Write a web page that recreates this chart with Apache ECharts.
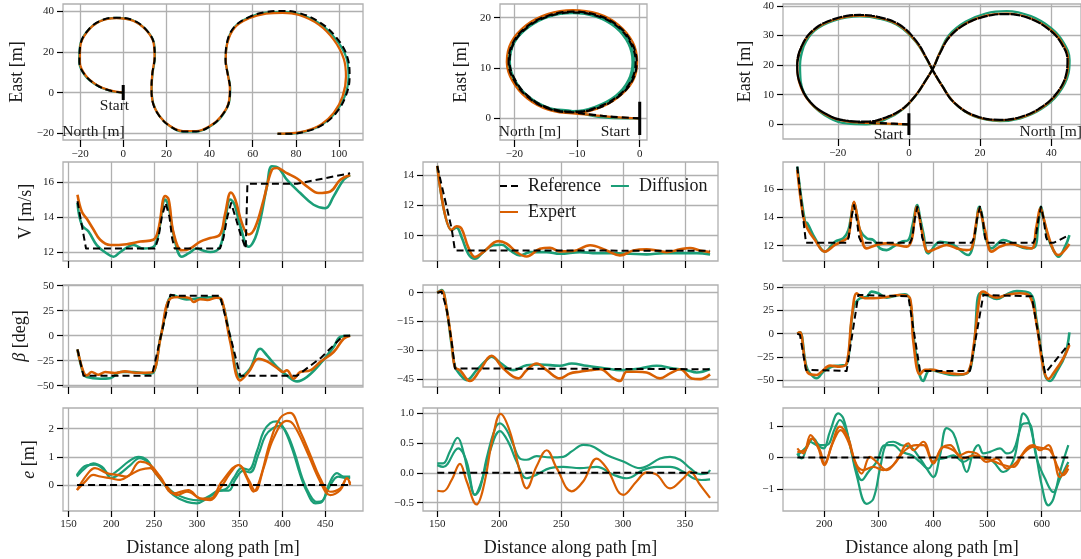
<!DOCTYPE html>
<html><head><meta charset="utf-8">
<script src="https://cdn.jsdelivr.net/npm/echarts@6/dist/echarts.min.js"></script>
<style>html,body{margin:0;padding:0;background:#fff}#c{width:1081px;height:559px}</style>
</head><body><div id="c"></div>
<script>
// ---------------- DATA ----------------
// Tick values
const t1x=[-20,0,20,40,60,80,100], t1y=[-20,0,20,40];
const t2x=[-20,-10,0], t2y=[0,10,20];
const t3x=[-20,0,20,40], t3y=[0,10,20,30,40];
const dist1=[150,200,250,300,350,400,450], dist2=[150,200,250,300,350], dist3=[200,300,400,500,600];
const vT1=[12,14,16], vT2=[10,12,14], vT3=[12,14,16];
const bT1=[-50,-25,0,25,50], bT2=[-45,-30,-15,0], bT3=[-50,-25,0,25,50];
const eT1=[0,1,2], eT2=[-0.5,0,0.5,1], eT3=[-1,0,1];

// Trajectory 1 [north, east]
const traj1Ref=[[0,0],[-6.2,1],[-12.3,3.7],[-17.7,8.6],[-20.3,15.1],[-20,22.4],[-16.9,29.8],[-10.8,35.1],[-3.1,36.7],[4.6,35.4],[10.8,30.6],[14.2,24.1],[14.6,17.6],[13.5,9.4],[13.1,2.1],[13.8,-5.2],[16.9,-11.7],[21.5,-16.3],[27.7,-19],[33.8,-19],[40,-16.6],[45.4,-11.7],[49.2,-3.6],[49.5,2.1],[48.5,8.6],[47.4,15.9],[48,24.1],[51.5,32.2],[58.5,37.1],[66.2,39.5],[73.8,40],[81.5,39],[90.8,34.6],[98.5,27.3],[103.8,17.6],[104.9,7.8],[103,-2],[98.5,-10.1],[92.3,-15.8],[84.6,-19],[76.9,-20.2],[71.5,-20.2]];
const traj1Exp=[[0,0],[-6.2,1.1],[-12.3,3.8],[-17.6,8.7],[-20.1,15.1],[-19.9,22.4],[-16.8,29.6],[-10.8,34.9],[-3.1,36.5],[4.6,35.2],[10.7,30.5],[14.1,24.1],[14.5,17.6],[13.5,9.4],[13.1,2.1],[13.8,-5.2],[16.9,-11.6],[21.5,-16.2],[27.7,-18.8],[33.8,-18.8],[40,-16.4],[45.3,-11.6],[49.1,-3.6],[49.4,2.1],[48.5,8.6],[47.5,15.9],[48.2,24],[51.7,31.9],[58.6,36.5],[66.2,38.7],[73.8,39.1],[81.5,38],[90.6,33.3],[97.6,25.8],[102.2,16.5],[103.2,7.8],[101.6,-2],[97.6,-9.8],[91.9,-15.4],[84.4,-18.8],[76.9,-20],[71.5,-20.1]];
const traj1Dif=[[0,0],[-6.2,0.9],[-12.3,3.6],[-17.8,8.5],[-20.4,15.1],[-20.1,22.4],[-17,29.7],[-10.8,35],[-3.1,36.6],[4.6,35.3],[10.8,30.5],[14.3,24.1],[14.7,17.6],[13.6,9.4],[13.2,2.1],[13.9,-5.2],[17,-11.8],[21.6,-16.4],[27.7,-19.1],[33.8,-19.1],[40,-16.7],[45.5,-11.8],[49.3,-3.6],[49.6,2.1],[48.6,8.6],[47.5,15.9],[48.1,24],[51.5,32],[58.4,36.9],[66.2,39.2],[73.8,39.5],[81.5,38.5],[90.8,34],[98.2,26.6],[103.4,17.1],[104.4,7.8],[102.6,-2],[98.2,-10],[92.2,-15.7],[84.6,-19],[76.9,-20.2],[71.5,-20.2]];
const start1=[[0,-3.6],[0,3.7]];

// Trajectory 2 (loop driven several laps)
const traj2RefEntry=[[0,0],[-4.2,0.3],[-7.4,0.7]];
const traj2RefLap=[[-10.7,1.2],[-14.5,1.9],[-17.8,4.2],[-20,7.5],[-20.9,11.2],[-20.2,15],[-17.9,18.3],[-14.6,20.4],[-10.7,21.2],[-6.8,20.5],[-3.5,18.4],[-1.3,15],[-0.5,11.2],[-1.2,7.5],[-3.4,4.3],[-6.8,2]];
const traj2RefLapB=[[-10.7,1.35],[-14.5,2.05],[-17.7,4.3],[-19.85,7.6],[-20.75,11.2],[-20.05,15],[-17.8,18.2],[-14.6,20.25],[-10.7,21.05],[-6.85,20.35],[-3.6,18.3],[-1.45,14.95],[-0.65,11.2],[-1.35,7.5],[-3.5,4.4],[-6.85,2.15]];
const traj2RefEnd=[[-10.7,1.2],[-14.5,1.9],[-17.8,4.2]];
const traj2ExpEntry=[[0,0],[-4.2,0.25],[-7.4,0.65]];
const traj2ExpLap=[[-10.7,1.0],[-14.6,1.7],[-18,4],[-20.3,7.4],[-21.2,11.2],[-20.5,15.1],[-18.1,18.5],[-14.7,20.7],[-10.7,21.5],[-6.7,20.8],[-3.4,18.6],[-1.1,15.1],[-0.4,11.2],[-1.1,7.4],[-3.4,4.2],[-6.8,1.9]];
const traj2DifEntry=[[0,0],[-4.2,0.05],[-7.5,0.5]];
const traj2DifLapA=[[-10.7,1.45],[-14.5,2.1],[-17.8,4.4],[-19.9,7.6],[-20.7,11.2],[-20,15],[-17.7,18.1],[-14.5,20.2],[-10.7,20.9],[-7,20.2],[-3.9,18.1],[-1.8,14.8],[-1.15,11.2],[-1.8,7.6],[-3.8,4.5],[-7.1,2.3]];
const traj2DifLapB=[[-10.7,1.35],[-14.5,2],[-17.9,4.3],[-20.1,7.5],[-20.9,11.2],[-20.2,15],[-17.8,18.2],[-14.5,20.3],[-10.7,21],[-6.9,20.3],[-3.7,18.2],[-1.6,14.9],[-0.9,11.2],[-1.5,7.5],[-3.6,4.4],[-7,2.2]];
const start2=[[0,-3.3],[0,3.3]];

// Trajectory 3 (figure eight)
const traj3RefEntry=[[0,0],[-6.3,0.3],[-12,0.6]];
const traj3RefLap=[[-17.5,1.2],[-22.2,2.8],[-27.8,7.6],[-30.8,14.4],[-31.4,20],[-30.2,26.2],[-26.9,31.8],[-21.3,35.4],[-13.8,36.9],[-8.2,36.1],[-2.5,33.5],[2.2,27.9],[5,22.2],[6.8,18.1],[9.2,13.3],[12.5,7.6],[18.1,3.1],[25.6,1.5],[31.2,2.4],[36.8,5.4],[41.5,10.4],[44.3,17.2],[44.6,21.7],[42.9,27.3],[39.6,31.8],[34,35.7],[27.5,37.2],[21.8,36.5],[16.2,34],[11.5,29.6],[8.7,23.9],[6.8,18.9],[4.5,14.4],[2.2,10.2],[-1.6,5.4],[-6.3,2.4],[-11.9,0.9]];
const traj3RefEnd=[[-17.5,1.2],[-22.2,2.8],[-27.8,7.6],[-30.8,14.4],[-31.4,20],[-30.2,26.2]];
const traj3ExpEntry=[[0,0],[-6.3,0.2],[-12,0.5]];
const traj3ExpLap=[[-17.5,1.0],[-22.3,2.6],[-27.9,7.5],[-30.9,14.4],[-31.4,20],[-30.2,26.1],[-26.9,31.6],[-21.3,35.2],[-13.8,36.7],[-8.2,35.9],[-2.6,33.3],[2.1,27.8],[5,22.1],[6.8,18],[9.2,13.2],[12.6,7.5],[18.2,2.9],[25.6,1.3],[31.3,2.2],[37,5.3],[41.7,10.4],[44.5,17.2],[44.8,21.7],[43.1,27.4],[39.7,32],[34,35.9],[27.5,37.4],[21.7,36.7],[16.1,34.1],[11.4,29.6],[8.6,23.9],[6.8,18.9],[4.5,14.3],[2.1,10.1],[-1.7,5.2],[-6.4,2.1],[-11.9,0.6]];
const traj3ExpEnd=[[-17.5,1.0],[-22.3,2.6],[-27.9,7.5],[-30.9,14.4],[-31.4,20],[-30.2,26.1]];
const traj3DifEntry=[[0,0],[-6.3,0.1],[-12,0.2]];
const traj3DifLap=[[-17.5,0.3],[-22.2,2.0],[-27.6,7.2],[-30.4,14.4],[-30.6,20],[-29.6,26.2],[-26.5,31.6],[-21.1,35],[-13.8,36.4],[-8.2,35.6],[-2.6,33],[2.1,27.6],[5,22],[6.8,17.9],[9.3,13.1],[12.7,7.3],[18.3,2.7],[25.6,1.1],[31.4,2.0],[37.2,5.1],[42,10.2],[44.9,17.2],[45.2,21.7],[43.5,27.6],[40.1,32.4],[34.3,36.5],[27.5,38.2],[21.6,37.4],[15.9,34.6],[11.2,30],[8.6,24],[6.8,18.9],[4.4,14.2],[2,9.8],[-1.9,4.9],[-6.6,1.6],[-12,0]];
const traj3DifEnd=[[-17.5,0.3],[-22.2,2.0],[-27.6,7.2],[-30.4,14.4],[-30.6,20],[-29.6,26.2]];
const start3=[[0,-3.6],[0,3.7]];

// Column 1 [distance, value]
const v1Ref=[[160.5,14.9],[170.5,12.2],[251,12.2],[255,12.8],[259,14.0],[263.5,14.8],[268,14.0],[271,12.8],[274,12.2],[327,12.2],[331,12.8],[335.5,14.0],[340,14.8],[345,14.0],[351,13.0],[357,12.2],[358.5,12.2],[359,15.9],[417,15.9],[479,16.5]];
const v1Exp=[[160.5,15.27],[165.6,14.3],[171.4,13.9],[179,13.3],[187,12.7],[198.7,12.4],[218,12.45],[234,12.6],[249,12.7],[255,13.3],[263,15.2],[267,15.0],[272.7,13.1],[282.5,12.1],[292,12.2],[304,12.6],[315.6,12.8],[327,13.0],[333,14.2],[339.7,15.4],[344.8,15.0],[352.6,13.65],[360.4,13.0],[368,13.4],[378,15.0],[387.6,16.7],[393.5,16.8],[405,16.5],[417,16.2],[428.5,15.75],[442,15.37],[455.8,15.46],[467.5,16.13],[479,16.4]];
const v1Dif=[[160.5,14.8],[165.6,13.55],[173.4,13.17],[183,12.4],[194.8,11.92],[202.6,11.73],[210.4,12.0],[226,12.4],[237.6,12.2],[249.3,12.3],[255,13.07],[263,15.0],[267,14.6],[272.7,13.0],[282.5,11.73],[290,11.92],[300,12.2],[306,12.1],[315.6,12.0],[327,12.3],[333,13.8],[339,15.0],[344,14.7],[350.6,13.5],[360.4,12.3],[370,13.07],[381.8,15.75],[387.6,16.9],[395.4,16.8],[405,16.13],[420.7,15.37],[436.3,14.7],[450,14.5],[459.7,15.18],[471.4,16.13],[479,16.4]];
const b1Ref=[[160.5,-13.7],[167.5,-40],[247.4,-40],[269,41],[275,40],[327,40],[350.6,-40],[417,-40],[445,-22],[471,0],[479,0]];
const b1Exp=[[160.5,-13.7],[167.5,-36.3],[171.4,-39.7],[177,-36.3],[185,-39],[193,-36.3],[204,-37.3],[216,-35.7],[228,-37],[240,-37],[248,-36.5],[258,0],[268.8,37],[280.5,38.7],[292,37.5],[296,33.7],[304,36.5],[312,35.7],[323,38],[329,36],[339,-6.3],[350.6,-44.7],[360.4,-36.3],[372,-23],[381.8,-25.7],[393.5,-32.3],[401,-36.3],[405,-34.5],[413,-43],[420.7,-36.3],[432.4,-34.7],[444,-26.3],[459.7,-16.3],[471.4,-3],[479,0]];
const b1Dif=[[160.5,-13.7],[167.5,-38],[171.4,-41.3],[187,-43],[198.7,-42.5],[210.4,-36.3],[226,-36.3],[241.5,-38],[249,-37],[258,0],[272.7,40.3],[288,36.3],[304,37.6],[319.5,38.7],[327,37.5],[339,-3],[350.6,-41.3],[362,-33],[374,-13],[381.8,-19.7],[393.5,-31.3],[405,-39.7],[417,-45.7],[428.5,-41.3],[444,-28],[459.7,-11.3],[467.5,-1.3],[479,0]];
const e1Ref=[[160,0],[479,0]];
const e1Dif1=[[159.7,0.3],[171.4,0.65],[179,0.77],[189,0.65],[198.7,0.36],[208.4,0.54],[220,0.83],[231.8,1.0],[241.5,0.89],[249.3,0.54],[261,0.06],[272.7,-0.36],[288.3,-0.6],[300,-0.65],[311.7,-0.48],[323.4,-0.24],[335,-0.12],[342.8,0.24],[352.6,0.6],[360.4,0.54],[370,1.19],[377.9,1.9],[385.7,2.2],[393.5,2.26],[401.3,2.02],[411,1.31],[420.7,0.36],[428.5,-0.24],[438.3,-0.65],[446,-0.6],[453.9,0],[463.6,0.42],[471.4,0.3],[479,0.3]];
const e1Dif2=[[159.7,0.35],[171.4,0.7],[181,0.72],[191,0.55],[200,0.25],[210,0.4],[222,0.7],[233,0.95],[243,0.8],[251,0.45],[263,0.0],[274,-0.3],[290,-0.5],[302,-0.55],[314,-0.4],[326,-0.2],[337,-0.2],[345,0.2],[354,0.5],[362,0.45],[372,1.1],[380,1.75],[388,2.0],[396,2.1],[404,1.9],[414,1.15],[423,0.25],[431,-0.3],[440,-0.6],[447,-0.55],[455,-0.05],[465,0.3],[473,0.25],[479,0.25]];
const e1Exp1=[[160,-0.18],[169.5,0.12],[179,0.36],[187,0.3],[198.7,0.24],[210.4,0.18],[222,0.36],[233.8,0.54],[245.5,0.6],[253,0.36],[265,-0.06],[276.6,-0.36],[288.3,-0.24],[304,-0.48],[315.6,-0.54],[327.3,-0.12],[339,0.42],[348.7,0.71],[358.4,0.24],[366.2,-0.24],[374,0.24],[385.7,1.55],[397.4,2.38],[409,2.56],[420.7,1.9],[432.4,1.07],[444,0.24],[455.8,-0.24],[467.5,-0.12],[475.3,0.24],[479,0.06]];
const e1Exp2=[[160,-0.18],[171.4,0.36],[181,0.6],[194.8,0.42],[206.5,0.36],[218,0.3],[233.8,0.83],[245.5,0.71],[257,0.3],[272.7,-0.3],[290,-0.18],[304,-0.48],[315.6,-0.48],[329,0.12],[348.7,0.71],[360.4,0.18],[368,-0.21],[377.9,0.6],[389.6,1.67],[405,2.28],[413,2.14],[428.5,1.19],[444,0.12],[455.8,-0.36],[467.5,-0.18],[475.3,0.24],[479,0.0]];

// Column 2
const v2Ref=[[150,14.62],[161.6,10.47],[164.3,9.02],[370.2,9.0]];
const v2Dif=[[150,14.62],[161.6,10.36],[165.6,10.53],[169.6,9.91],[175,8.8],[180.4,8.47],[187.1,8.91],[195.2,9.36],[202,9.4],[208.7,9.02],[216.8,8.69],[224.8,8.91],[238.3,8.91],[249,8.8],[265.2,8.91],[278.7,8.84],[292.1,8.84],[305.6,8.8],[319,8.76],[332.5,8.84],[346,8.84],[359.4,8.84],[370.2,8.76]];
const v2Exp=[[150,14.62],[161.6,10.36],[165.6,10.62],[169.6,10.47],[175,9.24],[180.4,8.58],[187.1,8.91],[199.3,9.64],[206,9.47],[214,8.91],[222.1,8.62],[232.9,9.13],[241,9.2],[249,8.96],[259.8,8.98],[273.3,9.36],[286.7,9.02],[297.5,8.69],[308.3,9.02],[319,9.09],[327.1,9.02],[335.2,8.91],[346,9.09],[354,9.18],[362.1,9.02],[370.2,8.91]];
const b2Ref=[[150,0],[153.5,0.5],[157.5,-8.2],[161.6,-25.6],[164.3,-39.6],[165.5,-40],[370.2,-40]];
const b2Dif=[[150,0],[153.5,1.4],[157.5,-8.2],[161.6,-27.4],[164.3,-38.7],[168.3,-42.7],[173.7,-45.7],[181.8,-40.5],[189.8,-35.2],[193.9,-33.5],[200.6,-36.5],[211.4,-40.5],[222.1,-37.9],[232.9,-37.5],[249,-38.2],[258.5,-37],[270.6,-38.2],[286.7,-39.6],[297.5,-40.5],[313.7,-39.6],[327.1,-38.2],[340.6,-39.6],[351.3,-40.5],[359.4,-41.7],[370.2,-39.9]];
const b2Exp=[[150,0],[153.5,1.0],[157.5,-8.2],[161.6,-26],[164.3,-39],[168.3,-40.5],[176.4,-46.2],[184.5,-40.5],[193.9,-33],[203.3,-39.6],[215.4,-44.8],[222.1,-40.5],[230.2,-37],[238.3,-40.5],[249,-44.8],[257.1,-42.2],[265.2,-41.3],[273.3,-40.5],[281.4,-40],[292.1,-44.8],[297.5,-46.2],[302.9,-41.3],[311,-41.3],[319,-41.7],[329.8,-44.8],[337.9,-42.2],[346,-40],[355.4,-44.8],[362.1,-45.2],[370.2,-42.7]];
const e2Ref=[[150,0],[370.2,0]];
const e2Dif1=[[150,0.16],[154.8,0.16],[160.2,0.36],[166.4,0.59],[171,0.36],[176.4,-0.14],[180.4,-0.37],[184.5,-0.26],[189.8,0.24],[196.6,0.74],[200.6,0.83],[206,0.72],[211.4,0.47],[216.8,0.24],[222.1,0.22],[230.2,0.28],[241,0.26],[251.7,0.27],[258.5,0.36],[267.9,0.47],[273.3,0.46],[286.7,0.3],[300.2,0.19],[313.7,0.08],[319,0.11],[329.8,0.24],[337.9,0.27],[346,0.22],[354,0.08],[362.1,-0.02],[367.5,-0.01],[370.2,0.05]];
const e2Dif2=[[150,0.13],[154.8,0.1],[167,0.41],[173.7,0.19],[180.4,-0.37],[185.8,-0.14],[192.5,0.36],[200.6,0.7],[207.3,0.52],[214,0.19],[222.1,-0.09],[230.2,-0.03],[241,0.08],[251.7,0.1],[265.2,0.08],[278.7,0.1],[292.1,-0.03],[302.9,-0.09],[316.4,0.05],[327.1,0.1],[337.9,0.1],[348.7,0.02],[356.7,-0.09],[363.4,-0.12],[370.2,-0.11]];
const e2Exp=[[150,-0.3],[154.8,-0.31],[161.6,-0.12],[168.3,0.15],[173.7,-0.14],[181.8,-0.53],[187.1,-0.26],[195.2,0.63],[201.1,0.99],[208.7,0.69],[216.8,0.02],[222.1,-0.26],[230.2,0.11],[238.3,0.38],[246.4,0.08],[258.5,-0.31],[267.9,-0.14],[278.7,0.24],[286.7,0.08],[300.2,-0.37],[311,-0.14],[319,0.01],[327.1,-0.03],[337.9,-0.26],[348.7,-0.09],[354,0.02],[362.1,-0.2],[370.2,-0.42]];

// Column 3
const v3Ref=[[150.3,17.58],[166.3,12.2],[241,12.2],[245,12.6],[249.5,13.9],[254.6,14.87],[259.5,13.9],[264,12.6],[268.7,12.2],[357.7,12.2],[362,12.6],[366.5,13.9],[371.2,14.75],[376,13.9],[380,12.6],[383.4,12.2],[471.2,12.2],[476,12.6],[481,13.9],[486.5,14.75],[491.5,13.9],[495.5,12.6],[498.8,12.2],[584.7,12.2],[589,12.6],[594,13.9],[598.8,14.75],[603.5,13.9],[608,12.6],[612.3,12.2],[621.5,12.2],[651,12.75]];
const v3Exp=[[150.3,17.34],[161.3,14.05],[168.7,13.22],[182.8,12.4],[201.2,11.58],[219.6,12.05],[235,12.35],[244.2,12.64],[249.5,14.0],[254.6,15.1],[260,14.2],[265.6,13.1],[277.9,11.81],[296.3,12.05],[314.7,12.16],[333.1,12.05],[351.5,11.93],[360.7,12.4],[365.5,13.7],[369.9,14.75],[374.5,14.1],[379.1,13.1],[391.4,11.58],[406.7,11.81],[425.2,12.05],[443.6,11.81],[462,11.69],[471.2,11.81],[479,13.5],[485.3,14.64],[490,14.0],[495.7,13.1],[508,11.58],[523.3,11.93],[541.7,12.12],[563.2,11.93],[581.6,11.81],[590,13.3],[598.2,14.64],[603,14.0],[609.2,13.1],[621.5,11.69],[630.7,11.34],[639.9,11.58],[650.9,12.12]];
const v3Dif=[[150.3,17.58],[164.4,13.69],[168.7,13.58],[182.8,12.52],[201.2,11.58],[219.6,12.28],[235,12.52],[244.2,13.1],[249.5,14.1],[254.6,15.04],[260,14.2],[265.6,13.1],[277.9,12.52],[290.2,12.4],[302.5,11.81],[314.7,11.69],[327,11.93],[342.3,12.28],[354.6,12.4],[362,13.4],[371.2,14.87],[376,14.0],[382.2,12.87],[391.4,11.46],[412.9,12.28],[437.4,12.05],[465,11.34],[473,11.93],[479,13.3],[485.3,14.75],[490,14.2],[495.7,12.75],[508,11.81],[529.4,12.4],[547.9,12.16],[572.4,11.81],[587.7,11.93],[593,13.3],[598.8,14.75],[603,14.0],[612.3,12.52],[621.5,11.69],[630.7,11.22],[643,11.93],[651,12.75]];
const b3Ref=[[150.3,0],[155.2,-1.4],[166.3,-38.9],[168,-40],[241.1,-40],[262.6,41.4],[266,40],[354.6,40],[376.1,-40],[468.1,-40],[492.6,41.4],[496,40],[581.6,40],[606.1,-42.5],[651,-10.4]];
const b3Exp=[[150.3,0],[155.2,1.4],[164.4,-30],[170.6,-42.5],[185.9,-44.3],[195.1,-40.7],[210.4,-34.3],[228.8,-35.4],[241.1,-31.8],[250.3,16.4],[259.5,43.2],[265.6,40.7],[274.8,37.9],[290.2,37.9],[314.7,39.3],[339.3,41.4],[357.7,37.9],[363.8,-8.6],[376.1,-43.6],[385.3,-38.9],[400.6,-38.9],[412.9,-40.7],[431.3,-42.5],[449.7,-43.6],[465,-40.7],[474.2,-15.7],[486.5,41.4],[492.6,45],[504.9,40.7],[517.2,38.6],[535.6,41.4],[560.1,43.2],[578.5,39.6],[590.8,9.3],[603.1,-37.1],[612.3,-48.6],[621.5,-42.5],[639.9,-26.4],[651,-12.1]];
const b3Dif=[[150.3,0],[155.2,1.4],[166.3,-33.6],[173.6,-42.5],[185.9,-47.9],[198.2,-40.7],[213.5,-35.4],[228.8,-34.3],[241.1,-32.9],[253.4,27.1],[265.6,37.9],[277.9,39.3],[287.1,45],[299.4,43.2],[314.7,38.6],[333.1,40.7],[348.5,42.1],[357.7,36.1],[366.9,-15.7],[382.2,-50.7],[394.5,-38.9],[412.9,-41.4],[437.4,-44.3],[462,-42.5],[474.2,-19.3],[486.5,43.2],[498.8,41.4],[517.2,37.1],[535.6,42.1],[554,45.7],[578.5,43.2],[590.8,12.9],[606.1,-44.3],[615.3,-50.7],[627.6,-40.7],[643,-22.9],[651,1.4]];
const e3Ref=[[150.3,0],[651,0]];
const e3Dif1=[[150.3,0.13],[158.3,-0.03],[173.6,0.5],[185.9,0.39],[198.2,0.29],[210.4,0.82],[225.8,1.4],[235,1.24],[247.2,0.39],[259.5,-0.56],[277.9,-1.47],[290.2,-1.31],[302.5,-0.35],[314.7,0.45],[327,0.5],[342.3,0.39],[357.7,0.34],[376.1,-0.03],[388.3,-0.35],[400.6,-0.62],[412.9,0.07],[425.2,0.93],[437.4,0.77],[449.7,0.13],[462,-0.46],[474.2,0.18],[483.4,0.39],[492.6,0.13],[504.9,0.18],[523.3,0.29],[535.6,0.13],[547.9,0.23],[557,0.71],[566.3,1.4],[575.5,1.19],[587.7,0.29],[600,-0.88],[612.3,-1.52],[621.5,-1.31],[633.7,-0.46],[649,0.39]];
const e3Dif2=[[150.3,0.07],[167.5,0.34],[179.8,0.61],[192,0.39],[204.3,0.39],[219.6,0.93],[228.8,1.19],[241.1,0.82],[256.4,-0.24],[268.7,-0.72],[281,-0.46],[296.3,-0.14],[311.7,0.39],[327,0.39],[342.3,0.18],[360.7,0.07],[376.1,-0.14],[391.4,-0.35],[403.7,-0.09],[419,-0.03],[437.4,0.07],[455.8,-0.14],[474.2,0.02],[492.6,0.02],[511,-0.14],[529.4,-0.46],[547.9,-0.09],[563.2,1.03],[575.5,1.09],[590.8,-0.03],[606.1,-0.67],[621.5,-1.1],[633.7,-0.67],[649,-0.14]];
const e3Exp1=[[150.3,0.29],[161.3,0.13],[174.8,0.71],[189,0.29],[200,-0.24],[213.5,0.39],[228.8,0.98],[244.2,0.61],[256.4,-0.14],[268.7,-0.51],[284,0.02],[296.3,-0.14],[314.7,-0.4],[333.1,-0.09],[354.6,0.45],[363.8,0.23],[382.2,0.5],[400.6,-0.14],[416,0.29],[431.3,0.39],[449.7,0.07],[465,0.18],[480.4,0.13],[498.8,-0.14],[517.2,-0.03],[535.6,-0.35],[554,-0.14],[572.4,0.29],[584.7,0.39],[597,0.23],[612.3,0.39],[621.5,0.07],[633.7,-0.62],[649,-0.24]];
const e3Exp2=[[150.3,0.18],[164.4,0.23],[176.7,0.6],[192,0.23],[200,-0.19],[216.6,0.5],[230,0.87],[244.2,0.5],[259.5,-0.24],[271.8,-0.4],[290.2,-0.3],[308.6,-0.4],[327,-0.24],[348.5,0.23],[369.9,0.39],[382.2,0.39],[400.6,-0.19],[419,0.34],[437.4,0.23],[455.8,-0.03],[474.2,0.07],[492.6,-0.03],[508,-0.09],[529.4,-0.24],[547.9,-0.3],[566.3,0.13],[584.7,0.34],[603.1,0.29],[615.3,0.23],[630.7,-0.35],[639.9,-0.56],[649,-0.35]];

// ---------------- STYLE / LAYOUT ----------------
const C_GREEN='#1b9e77', C_ORANGE='#d95f02', C_REF='#000000', C_GRID='#b0b0b0', C_TEXT='#1a1a1a';
const FONT='"Liberation Serif","Times New Roman",serif';
const option={animation:false, backgroundColor:'#ffffff', grid:[], xAxis:[], yAxis:[], series:[], legend:[], graphic:[]};

function fmtInt(v){return (v<0?'\u2212':'')+Math.abs(v);}
function fmt1(v){return (v<0?'\u2212':'')+Math.abs(v).toFixed(1);}

function axis(gi, range, ticks, step, o){
  o=o||{};
  return {
    gridIndex:gi, type:'value', min:range[0], max:range[1], minInterval:step, maxInterval:step,
    axisLine:{show:false, onZero:false},
    axisTick:{show:true, inside:false, length:o.tickLen||6, customValues:ticks, lineStyle:{color:'#000', width:1.2}},
    axisLabel:{show:o.labels!==false, customValues:ticks, formatter:o.fmt||fmtInt, fontFamily:FONT, fontSize:11, color:C_TEXT, margin:o.margin||8},
    splitLine:{show:true, lineStyle:{color:C_GRID, width:1.3}},
    name:o.name||'', nameLocation:'middle', nameGap:o.nameGap||30, nameMoveOverlap:false,
    nameTextStyle:{fontFamily:FONT, fontSize:18, color:C_TEXT, rich:{i:{fontFamily:FONT, fontSize:18, fontStyle:'italic', color:C_TEXT}}}
  };
}
function panel(box, xr, xt, xs, yr, yt, ys, xo, yo){
  const gi=option.grid.length;
  option.grid.push({left:box[0], top:box[1], width:box[2], height:box[3], show:true, borderColor:C_GRID, borderWidth:1.3, backgroundColor:'rgba(0,0,0,0)', containLabel:false, outerBoundsMode:'none'});
  option.xAxis.push(axis(gi, xr, xt, xs, xo));
  option.yAxis.push(axis(gi, yr, yt, ys, yo));
  return gi;
}
function line(gi, name, data, color, width, dashed, smooth, z){
  option.series.push({type:'line', name:name, xAxisIndex:gi, yAxisIndex:gi, data:data, symbol:'none', showSymbol:false,
    smooth:smooth, lineStyle:{color:color, width:width, type:dashed?[7,4]:'solid', cap:'butt', join:'round'}, itemStyle:{color:color},
    z:z||2, silent:true, clip:true, emphasis:{disabled:true}});
}

// ---- Row 1: trajectories
let g;
g=panel([63,4,300,136],[-27.9,111.1],t1x,20,[-23.2,43.4],t1y,20,{margin:9,tickLen:7},{name:'East [m]',nameGap:37,margin:9});
line(g,'Diffusion',traj1Dif,C_GREEN,2.2,false,0.4,2);
line(g,'Expert',traj1Exp,C_ORANGE,2.2,false,0.4,3);
line(g,'Reference',traj1Ref,C_REF,2,true,0.4,4);
line(g,'start',start1,C_REF,3,false,false,5);

g=panel([500,4,147,136],[-22.28,1.16],t2x,10,[-4.31,22.72],t2y,10,{margin:9,tickLen:7},{name:'East [m]',nameGap:30,margin:9});
line(g,'Diffusion',traj2DifEntry.concat(traj2DifLapA,traj2DifLapB,traj2DifLapA,traj2DifLapB),C_GREEN,2.2,false,0.4,2);
line(g,'Expert',traj2ExpEntry.concat(traj2ExpLap,traj2ExpLap,traj2ExpLap),C_ORANGE,2.2,false,0.4,3);
line(g,'Reference',traj2RefEntry.concat(traj2RefLap,traj2RefLapB,traj2RefLap,traj2RefEnd),C_REF,2.2,true,0.4,4);
line(g,'start',start2,C_REF,3,false,false,5);

g=panel([783,4,298,135],[-35.4,48.4],t3x,20,[-4.96,40.6],t3y,10,{margin:9,tickLen:7},{name:'East [m]',nameGap:29,margin:9});
line(g,'Diffusion',traj3DifEntry.concat(traj3DifLap,traj3DifLap,traj3DifEnd),C_GREEN,2.2,false,0.4,2);
line(g,'Expert',traj3ExpEntry.concat(traj3ExpLap,traj3ExpLap,traj3ExpEnd),C_ORANGE,2.2,false,0.4,3);
line(g,'Reference',traj3RefEntry.concat(traj3RefLap,traj3RefLap,traj3RefEnd),C_REF,2.2,true,0.4,4);
line(g,'start',start3,C_REF,3,false,false,5);

// ---- Row 2: V
g=panel([63,162,300,99],[143.6,494],dist1,50,[11.49,17.14],vT1,2,{labels:false,tickLen:7},{name:'V [m/s]',nameGap:28,margin:9});
line(g,'Diffusion',v1Dif,C_GREEN,2.6,false,0.4,2); line(g,'Expert',v1Exp,C_ORANGE,2.6,false,0.4,3); line(g,'Reference',v1Ref,C_REF,2,true,false,4);
g=panel([423,162,295,99],[138.5,376.6],dist2,50,[8.32,14.88],vT2,2,{labels:false,tickLen:7},{margin:9});
line(g,'Diffusion',v2Dif,C_GREEN,2.6,false,0.4,2); line(g,'Expert',v2Exp,C_ORANGE,2.6,false,0.4,3); line(g,'Reference',v2Ref,C_REF,2,true,false,4);
g=panel([783,162,298,99],[124,672.3],dist3,100,[10.92,17.9],vT3,2,{labels:false,tickLen:7},{margin:9});
line(g,'Diffusion',v3Dif,C_GREEN,2.6,false,0.4,2); line(g,'Expert',v3Exp,C_ORANGE,2.6,false,0.4,3); line(g,'Reference',v3Ref,C_REF,2,true,false,4);

// ---- Row 3: beta
g=panel([63,285,300,102],[143.6,494],dist1,50,[-51.3,50.7],bT1,25,{labels:false,tickLen:7},{name:'{i|\u03b2} [deg]',nameGap:34,margin:9});
line(g,'Diffusion',b1Dif,C_GREEN,2.6,false,0.4,2); line(g,'Expert',b1Exp,C_ORANGE,2.6,false,0.4,3); line(g,'Reference',b1Ref,C_REF,2,true,false,4);
g=panel([423,285,295,102],[138.5,376.6],dist2,50,[-49.3,4.03],bT2,15,{labels:false,tickLen:7},{margin:9});
line(g,'Diffusion',b2Dif,C_GREEN,2.6,false,0.4,2); line(g,'Expert',b2Exp,C_ORANGE,2.6,false,0.4,3); line(g,'Reference',b2Ref,C_REF,2,true,false,4);
g=panel([783,285,298,102],[124,672.3],dist3,100,[-57.2,52.1],bT3,25,{labels:false,tickLen:7},{margin:9});
line(g,'Diffusion',b3Dif,C_GREEN,2.6,false,0.4,2); line(g,'Expert',b3Exp,C_ORANGE,2.6,false,0.4,3); line(g,'Reference',b3Ref,C_REF,2,true,false,4);

// ---- Row 4: e
const xName={name:'Distance along path [m]',nameGap:28,margin:8,tickLen:6};
g=panel([63,408,300,103],[143.6,494],dist1,50,[-0.924,2.735],eT1,1,xName,{name:'{i|e} [m]',nameGap:25,margin:9});
line(g,'Diffusion',e1Dif1,C_GREEN,2.2,false,0.4,2); line(g,'Diffusion',e1Dif2,C_GREEN,2.2,false,0.4,2);
line(g,'Expert',e1Exp1,C_ORANGE,2.2,false,0.4,3); line(g,'Expert',e1Exp2,C_ORANGE,2.2,false,0.4,3);
line(g,'Reference',e1Ref,C_REF,2,true,false,4);
g=panel([423,408,295,103],[138.5,376.6],dist2,50,[-0.64,1.089],eT2,0.5,xName,{margin:9,fmt:fmt1});
line(g,'Diffusion',e2Dif1,C_GREEN,2.2,false,0.4,2); line(g,'Diffusion',e2Dif2,C_GREEN,2.2,false,0.4,2);
line(g,'Expert',e2Exp,C_ORANGE,2.2,false,0.4,3);
line(g,'Reference',e2Ref,C_REF,2,true,false,4);
g=panel([783,408,298,103],[124,672.3],dist3,100,[-1.698,1.571],eT3,1,xName,{margin:9});
line(g,'Diffusion',e3Dif1,C_GREEN,2.2,false,0.4,2); line(g,'Diffusion',e3Dif2,C_GREEN,2.2,false,0.4,2);
line(g,'Expert',e3Exp1,C_ORANGE,2.2,false,0.4,3); line(g,'Expert',e3Exp2,C_ORANGE,2.2,false,0.4,3);
line(g,'Reference',e3Ref,C_REF,2,true,false,4);

// ---- Legend
const legText={fontFamily:FONT, fontSize:18, color:C_TEXT, padding:[0,0,0,5]};
const legBase={orient:'horizontal', itemWidth:18, itemHeight:12, itemGap:9, padding:0, selectedMode:false, textStyle:legText, itemStyle:{opacity:0, borderWidth:0}};
option.legend=[
  Object.assign({data:['Reference','Diffusion'], left:499, top:177}, legBase),
  Object.assign({data:['Expert'], left:499, top:203}, legBase)
];

// ---- Annotations
function txt(x,y,s){return {type:'text', x:x, y:y, z:50, style:{text:s, fill:C_TEXT, font:'15.5px '+FONT, align:'center', verticalAlign:'middle'}};}
option.graphic=[
  txt(114.5,105.5,'Start'), txt(93.5,131.5,'North [m]'),
  txt(615.3,132,'Start'), txt(530,132,'North [m]'),
  txt(888.3,134.5,'Start'), txt(1050.8,131.7,'North [m]')
];

const chart=echarts.init(document.getElementById('c'),null,{renderer:'canvas'});
chart.setOption(option);
</script>
</body></html>
